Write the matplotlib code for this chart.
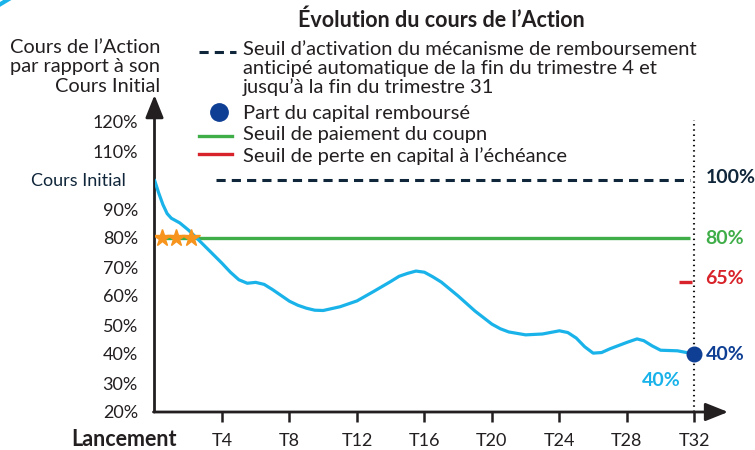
import matplotlib
matplotlib.use("Agg")
import matplotlib.pyplot as plt
import matplotlib.transforms as mtransforms
from matplotlib.lines import Line2D

plt.rcParams['font.family'] = ['Lato', 'DejaVu Sans']

# ---------------- data ----------------
quarters = [0, 0.25, 0.5, 0.75, 1, 1.5, 2, 2.5, 3, 3.5, 4, 4.5, 5, 5.5, 6, 6.5,
            7, 7.5, 8, 8.5, 9, 9.5, 10, 11, 12, 13, 14, 14.5, 15, 15.5, 16,
            16.5, 17, 18, 19, 20, 20.5, 21, 22, 23, 24, 24.5, 25, 25.5, 26,
            26.5, 27, 28, 28.6, 29, 29.5, 30, 31, 32]
cours = [100, 95.5, 91.5, 88.4, 86.8, 85.2, 82.8, 80.0, 77.1, 74.2, 71.3, 68.2,
         65.6, 64.4, 64.7, 64.0, 62.2, 60.2, 58.2, 56.8, 55.8, 55.1, 55.0, 56.3,
         58.3, 61.6, 65.0, 66.8, 67.8, 68.6, 68.2, 66.6, 64.8, 60.0, 54.8, 50.3,
         48.7, 47.6, 46.6, 46.9, 48.0, 47.4, 45.5, 42.5, 40.3, 40.5, 41.8, 44.0,
         45.2, 44.6, 42.8, 41.3, 41.1, 40.0]
xticks = [4, 8, 12, 16, 20, 24, 28, 32]
xticklabels = ['T4', 'T8', 'T12', 'T16', 'T20', 'T24', 'T28', 'T32']
yticks = [20, 30, 40, 50, 60, 70, 80, 90, 100, 110, 120]
yticklabels = ['20%', '30%', '40%', '50%', '60%', '70%', '80%', '90%',
               'Cours Initial', '110%', '120%']
seuil_rappel = 100
seuil_rappel_span = [3.65, 31.75]
seuil_coupon = 80
seuil_coupon_span = [0.5, 31.75]
seuil_perte = 65
seuil_perte_span = [31.1, 31.85]
coupons_x = [0.45, 1.25, 2.15]
coupons_y = [80, 80, 80]
final_x = 32
final_value = 40

# ---------------- colours ----------------
C_TXT = '#231f20'
C_NAVY = '#10263a'
C_CURVE = '#19b3ea'
C_DOT = '#0e3f94'
C_GREEN = '#3fae49'
C_RED = '#d8232a'
C_STAR = '#f7941d'

W, H = 755, 450
fig = plt.figure(figsize=(W / 100, H / 100), dpi=100)

def fx(px):
    return px / W

def fy(py):
    return 1 - py / H

ax = fig.add_axes([fx(154.5), fy(412), (35 * 16.87) / W, 319 / H])
ax.set_xlim(0, 35)
ax.set_ylim(20, 130)
for s in ax.spines.values():
    s.set_visible(False)
ax.patch.set_alpha(0)

# small decorative arc in the top-left corner
fig.add_artist(Line2D([fx(-1), fx(9)], [fy(5), fy(-1)], color=C_CURVE, lw=3))

# axes with arrows
arrow_kw = dict(arrowstyle='-|>,head_length=0.55,head_width=0.22', lw=2,
                color=C_TXT, shrinkA=0, shrinkB=0, mutation_scale=25)
ax.annotate('', xy=(0, 129.3), xytext=(0, 20), arrowprops=arrow_kw,
            annotation_clip=False)
ax.annotate('', xy=(34.0, 20), xytext=(-0.06, 20), arrowprops=arrow_kw,
            annotation_clip=False)

# ticks
ax.set_xticks(xticks)
ax.set_xticklabels(xticklabels, fontsize=13, color=C_TXT)
ax.tick_params(axis='x', direction='out', length=7, width=1.8, color=C_TXT, pad=8)
ax.set_yticks(yticks)
ax.set_yticklabels(yticklabels, fontsize=13, color=C_TXT)
ax.tick_params(axis='y', length=0, pad=12)
for lab in ax.get_yticklabels():
    if lab.get_text() == 'Cours Initial':
        lab.set_color(C_NAVY)
        lab.set_transform(lab.get_transform() +
                          mtransforms.ScaledTranslation(-12 / 100, 0, fig.dpi_scale_trans))

ax.annotate('Lancement', xy=(0, 0), xycoords=('data', 'axes fraction'),
            xytext=(16.2, -24.5), textcoords='offset points', ha='right',
            va='baseline', fontsize=15.5, fontweight='bold', color=C_TXT,
            annotation_clip=False)

# threshold lines
ax.hlines(seuil_rappel, *seuil_rappel_span, colors=C_NAVY, lw=2.2,
          linestyles=(0, (3, 2)))
ax.hlines(seuil_coupon, *seuil_coupon_span, colors=C_GREEN, lw=2.4)
ax.hlines(seuil_perte, *seuil_perte_span, colors=C_RED, lw=2.4)
ax.vlines(final_x, 20, 120.8, colors='#111111', lw=1.5, linestyles=(0, (0.7, 1.8)))

# curve
ax.plot(quarters, cours, color=C_CURVE, lw=2.3, solid_joinstyle='round',
        solid_capstyle='round', zorder=4)
ax.plot(coupons_x, coupons_y, linestyle='none', marker='*', markersize=13,
        color=C_STAR, markeredgecolor=C_STAR, zorder=5)
ax.plot([final_x], [final_value], 'o', markersize=10.5, color=C_DOT, zorder=6)

# right labels
def right_label(y, txt, color, dy=0):
    ax.annotate(txt, xy=(final_x, y), xytext=(8, dy), textcoords='offset points',
                ha='left', va='center', fontsize=14, fontweight='bold',
                color=color, annotation_clip=False)

right_label(seuil_rappel, '100%', C_NAVY, dy=2)
right_label(seuil_coupon, '80%', C_GREEN)
right_label(seuil_perte, '65%', C_RED, dy=2)
right_label(final_value, '40%', C_DOT)
ax.annotate('40%', xy=(final_x, final_value), xytext=(-24, -19),
            textcoords='offset points', ha='center', va='center', fontsize=14,
            fontweight='bold', color=C_CURVE, annotation_clip=False)

# title and y label
fig.text(fx(441.5), fy(27), "Évolution du cours de l\u2019Action", ha='center',
         va='baseline', fontsize=15.5, fontweight='bold', color=C_TXT)
for txt, base in [("Cours de l\u2019Action", 53), ("par rapport à son", 72),
                  ("Cours Initial", 92)]:
    fig.text(fx(160), fy(base), txt, ha='right', va='baseline', fontsize=14.4,
             color=C_TXT)

# legend
leg_fs = 14.5
fig.add_artist(Line2D([fx(199), fx(236)], [fy(52), fy(52)], color=C_NAVY, lw=2.2,
                      linestyle=(0, (3, 2))))
for txt, base in [("Seuil d\u2019activation du mécanisme de remboursement", 55),
                  ("anticipé automatique de la fin du trimestre 4 et", 74),
                  ("jusqu\u2019à la fin du trimestre 31", 93),
                  ("Part du capital remboursé", 119),
                  ("Seuil de paiement du coupn", 140),
                  ("Seuil de perte en capital à l\u2019échéance", 162)]:
    fig.text(fx(243), fy(base), txt, ha='left', va='baseline', fontsize=leg_fs,
             color=C_TXT)
fig.add_artist(Line2D([fx(219)], [fy(112)], marker='o', markersize=12.5, color=C_DOT,
                      linestyle='none'))
fig.add_artist(Line2D([fx(199), fx(232)], [fy(136), fy(136)], color=C_GREEN, lw=2.4))
fig.add_artist(Line2D([fx(199), fx(232)], [fy(154), fy(154)], color=C_RED, lw=2.4))

fig.savefig('out.png', dpi=100)
